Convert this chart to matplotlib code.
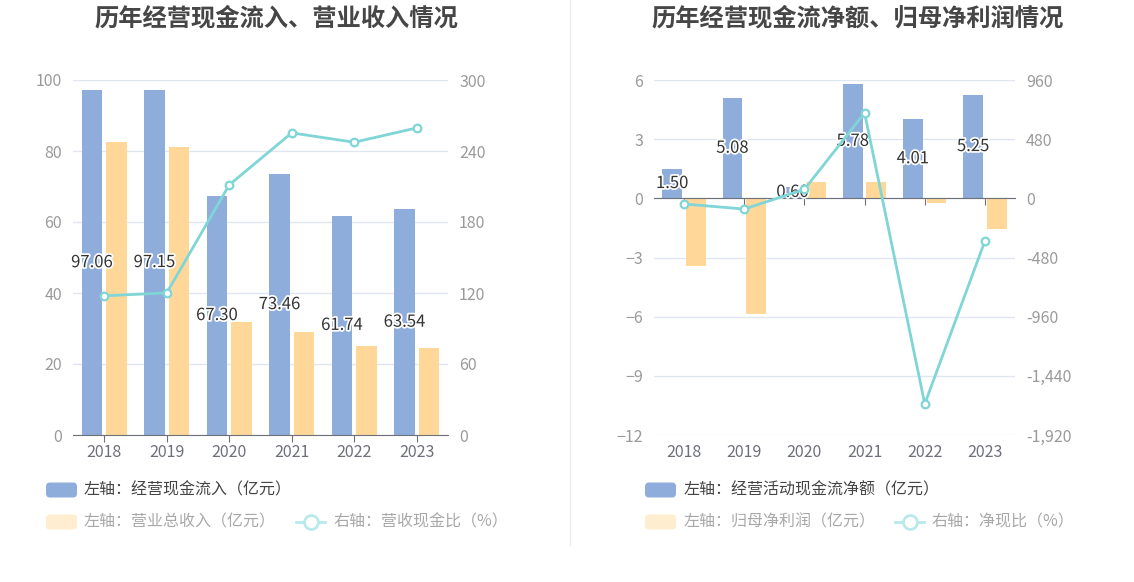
import numpy as np
import matplotlib.pyplot as plt
from matplotlib.patches import FancyBboxPatch
from matplotlib.lines import Line2D
from matplotlib.transforms import IdentityTransform
import matplotlib.patheffects as pe
from matplotlib.ticker import FuncFormatter

plt.rcParams['font.family'] = ['Noto Sans CJK SC', 'DejaVu Sans']

years = ['2018', '2019', '2020', '2021', '2022', '2023']
# left panel
cash_inflow = [97.06, 97.15, 67.30, 73.46, 61.74, 63.54]
revenue = [82.6, 81.1, 31.9, 28.9, 25.0, 24.6]
cash_ratio = [117.6, 120.1, 211.4, 255.3, 247.4, 259.5]
# right panel
net_cash = [1.50, 5.08, 0.60, 5.78, 4.01, 5.25]
net_profit = [-3.41, -5.89, 0.81, 0.82, -0.24, -1.54]
net_ratio = [-46, -87, 73, 693, -1668, -346]

BLUE = '#8eaddb'
ORANGE = '#ffd899'
TEAL = '#80d5d6'
GRID = '#e0e6f1'
AXIS = '#6e7079'
TICK = '#9a9a9a'

W, H = 1134, 582
fig = plt.figure(figsize=(W / 100, H / 100), dpi=100)


def rect(x0, y0, x1, y1):
    return [x0 / W, 1 - y1 / H, (x1 - x0) / W, (y1 - y0) / H]


def panel(box, title, title_x, bars1, bars2, line, ylim, yticks, y2lim, y2ticks, fmt2):
    ax = fig.add_axes(rect(*box))
    x = np.arange(len(years))
    ax.bar(x - 0.195, bars1, width=0.33, color=BLUE, zorder=2)
    ax.bar(x + 0.195, bars2, width=0.33, color=ORANGE, zorder=2)
    ax.set_xlim(-0.5, len(years) - 0.5)
    ax.set_ylim(*ylim)
    ax.set_yticks(yticks)
    ax.grid(axis='y', color=GRID, linewidth=1, zorder=0)
    ax.set_axisbelow(True)
    for s in ['top', 'right', 'left']:
        ax.spines[s].set_visible(False)
    ax.spines['bottom'].set_position(('data', 0))
    ax.spines['bottom'].set_color(AXIS)
    ax.set_xticks(x)
    ax.tick_params(axis='x', length=5, color=AXIS, labelbottom=False)
    ax.tick_params(axis='y', length=0, pad=8, labelcolor=TICK, labelsize=11.5)
    for i, yr in enumerate(years):
        ax.text(i, -0.05, yr, transform=ax.get_xaxis_transform(), ha='center', va='center',
                fontsize=11.5, color='#6e7079')
    for i, v in enumerate(bars1):
        ax.text(i - 0.195, v / 2, f'{v:.2f}', ha='center', va='center', fontsize=12,
                color='#333333', zorder=5,
                path_effects=[pe.withStroke(linewidth=2.5, foreground='white')])

    ax2 = ax.twinx()
    ax2.plot(x, line, color=TEAL, linewidth=2, marker='o', markersize=5.5,
             markerfacecolor='white', markeredgecolor=TEAL, markeredgewidth=1.6, zorder=4)
    ax2.set_ylim(*y2lim)
    ax2.set_yticks(y2ticks)
    ax2.yaxis.set_major_formatter(FuncFormatter(fmt2))
    for s in ax2.spines.values():
        s.set_visible(False)
    ax2.tick_params(axis='y', length=0, pad=8, labelcolor=TICK, labelsize=11.5)

    fig.text(title_x / W, 1 - 18 / H, title, ha='center', va='center', fontsize=17.5,
             fontweight='bold', color='#464646')
    return ax


def legend_patch(x, y, color):
    p = FancyBboxPatch((x, H - y - 7.5), 31, 15, boxstyle='round,pad=0,rounding_size=4',
                       transform=IdentityTransform(), facecolor=color, edgecolor='none')
    fig.patches.append(p)


def legend_text(x, y, s, color):
    fig.text(x / W, 1 - y / H, s, ha='left', va='center', fontsize=11.5, color=color)


def legend_line(x, y):
    fig.lines.append(Line2D([x, x + 29], [H - y, H - y], transform=IdentityTransform(),
                            color='#b9e9ea', linewidth=2))
    fig.lines.append(Line2D([x + 14.5], [H - y], transform=IdentityTransform(), marker='o',
                            markersize=10, markerfacecolor='white', markeredgecolor='#b9e9ea',
                            markeredgewidth=2))


panel((73, 80, 448, 435), '历年经营现金流入、营业收入情况', 276,
      cash_inflow, revenue, cash_ratio, (0, 100), [0, 20, 40, 60, 80, 100],
      (0, 300), [0, 60, 120, 180, 240, 300], lambda v, p: f'{int(v)}')

panel((654, 80, 1015, 435), '历年经营现金流净额、归母净利润情况', 858,
      net_cash, net_profit, net_ratio, (-12, 6), [-12, -9, -6, -3, 0, 3, 6],
      (-1920, 960), [-1920, -1440, -960, -480, 0, 480, 960], lambda v, p: f'{int(v):,}')

# legends
legend_patch(46, 490, BLUE)
legend_text(84, 490, '左轴：经营现金流入（亿元）', '#444444')
legend_patch(46, 522, '#feedcf')
legend_text(84, 522, '左轴：营业总收入（亿元）', '#a8a8a8')
legend_line(296, 522)
legend_text(333, 522, '右轴：营收现金比（%）', '#a8a8a8')

legend_patch(645, 490, BLUE)
legend_text(684, 490, '左轴：经营活动现金流净额（亿元）', '#444444')
legend_patch(645, 522, '#feedcf')
legend_text(684, 522, '左轴：归母净利润（亿元）', '#a8a8a8')
legend_line(895, 522)
legend_text(932, 522, '右轴：净现比（%）', '#a8a8a8')

# divider between panels
fig.lines.append(Line2D([570, 570], [H - 545, H], transform=IdentityTransform(),
                        color='#eeeeee', linewidth=1))

fig.savefig('out.png', dpi=100)
